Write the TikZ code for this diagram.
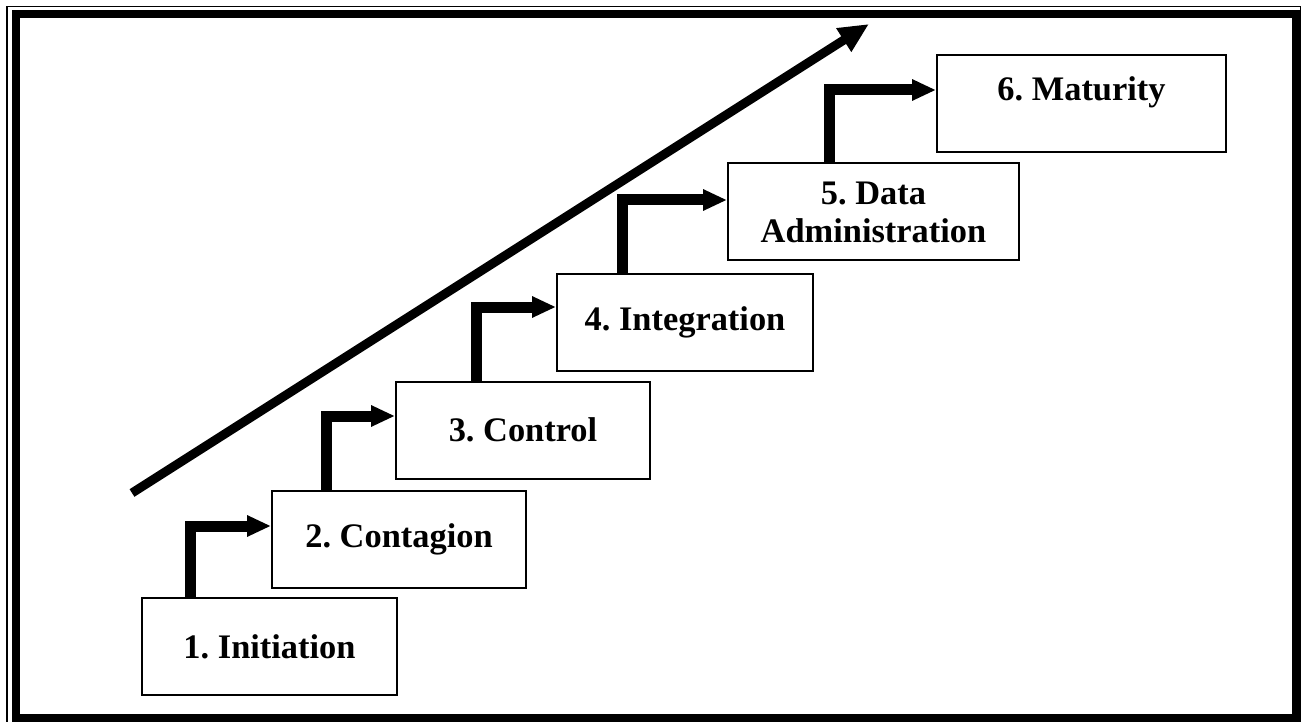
\documentclass[tikz,border=0pt]{standalone}
\usepackage{fontspec}
\setmainfont{Liberation Serif}
\frenchspacing
\usetikzlibrary{arrows.meta}
\usetikzlibrary{positioning}

\tikzset{
    stage/.style={draw, rectangle, line width=1pt, minimum width=#1, minimum height=48.5pt,
        inner sep=0pt, align=center, font=\fontsize{17.2}{19}\selectfont\bfseries},
    stair/.style={line width=5.5pt, -{Triangle[length=12pt,width=10pt]}},
    growth/.style={line width=4.5pt, -{Triangle[length=15pt,width=13pt]}}
}

\begin{document}
\begin{tikzpicture}[x=0.5pt,y=-0.5pt]
        \useasboundingbox (0,0) rectangle (1303,722);
        % double frame
        \draw[line width=0.75pt] (7,6.5) rectangle (1300.5,723);
        \draw[line width=4pt] (15.5,14) rectangle (1295.5,718);
        % the six stages
        \node[stage=127.5pt] (init) at (269.5,646.5) {1. Initiation};
        \node[stage=127pt] (cont) at (399,539.5) {2. Contagion};
        \node[stage=127pt] (ctrl) at (523,430) {3. Control};
        \node[stage=128pt] (integ) at (685,322.5) {4. Integration};
        \node[stage=145.5pt] (dadm) at (873.5,212) {5. Data\\Administration};
        \node[stage=144.5pt] (mat) at (1081.5,104) {6. Maturity\\[-3.5pt]\mbox{}};
        % steps between stages
        \coordinate (k1) at (190,526);
        \coordinate (k2) at (326,416);
        \coordinate (k3) at (476,307);
        \coordinate (k4) at (622,200);
        \coordinate (k5) at (829,90);
        \draw[stair] (init.north -| k1) |- (k1 -| cont.west);
        \draw[stair] (cont.north -| k2) |- (k2 -| ctrl.west);
        \draw[stair] (ctrl.north -| k3) |- (k3 -| integ.west);
        \draw[stair] (integ.north -| k4) |- (k4 -| dadm.west);
        \draw[stair] (dadm.north -| k5) |- (k5 -| mat.west);
        % rising trend
        \coordinate (low) at (132,493);
        \coordinate (high) at (869,24);
        \draw[growth] (low) -- (high);
\end{tikzpicture}
\end{document}
